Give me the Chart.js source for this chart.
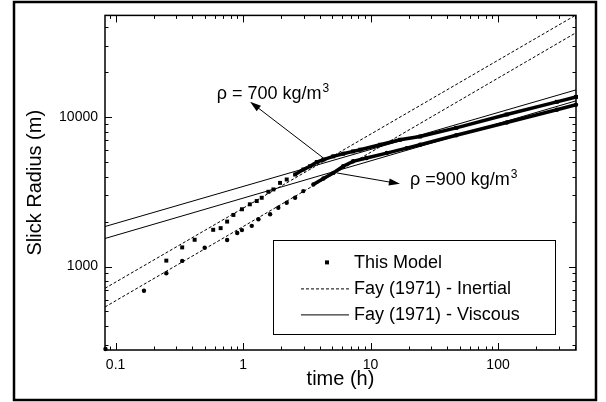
<!DOCTYPE html>
<html>
<head>
<meta charset="utf-8">
<script src="https://cdn.jsdelivr.net/npm/chart.js@4"></script>
<style>
  html, body { margin: 0; padding: 0; background: #fff; }
</style>
</head>
<body>
<canvas id="chart" width="606" height="402"></canvas>
<script>
const FONT = 'Arial, "Liberation Sans", sans-serif'

// model results, rho = 700 kg/m3 (time in h, radius in m)
const time700 = [0.25, 0.333, 0.417, 0.583, 0.667, 0.75, 0.84, 0.98, 1.13, 1.28, 1.40, 1.58, 1.73, 1.95, 2.20, 2.56, 2.97, 3.35, 3.79, 4.27, 5.1, 6.1, 7.3, 8.3, 11.9, 17, 24.5, 47, 117, 289, 409]
const radius700 = [1096, 1344, 1512, 1763, 1809, 2002, 2218, 2421, 2613, 2749, 2891, 3170, 3289, 3638, 3833, 4138, 4467, 4699, 5018, 5207, 5478, 5707, 5912, 6068, 6552, 7072, 7440, 8500, 10450, 12700, 13700]

// model results, rho = 900 kg/m3
const time900 = [0.0833, 0.167, 0.25, 0.333, 0.5, 0.75, 0.9, 0.98, 1.17, 1.32, 1.63, 1.89, 2.20, 2.56, 2.97, 3.56, 4.27, 5.1, 6.1, 7.3, 9.3, 13.4, 19.2, 24.5, 47, 117, 289, 409]
const radius900 = [280, 689, 902, 1091, 1338, 1505, 1680, 1755, 1874, 2077, 2242, 2480, 2678, 2891, 3205, 3550, 3893, 4242, 4699, 5073, 5335, 5761, 6220, 6552, 7580, 9240, 11250, 12130]

// Fay (1971) reference lines, end points only
const fayTime = [0.0826, 409]
const inertial700 = [715, 48500]
const inertial900 = [536, 36900]
const viscous700 = [1855, 15270]
const viscous900 = [1542, 12900]

const xTickLabels = [0.1, 1, 10, 100]
const yTickLabels = [1000, 10000]
const legendLabels = ["This Model", "Fay (1971) - Inertial", "Fay (1971) - Viscous"]
// model points merge into a band after these times
const denseFrom700 = 2.5
const denseFrom900 = 3.5

const notes = [
  { text: "\u03c1 = 700 kg/m", sup: "3", t: 0.622, r: 13260, tailT: 4.27, tailR: 5335, headT: 1.135, headR: 12720 },
  { text: "\u03c1 =900 kg/m", sup: "3", t: 20.4, r: 3513, tailT: 5.43, tailR: 4242, headT: 17.0, headR: 3583 },
]

const pts = (xs, ys) => xs.map((x, i) => ({ x, y: ys[i] }))

function isPow10(v) {
  const l = Math.log10(v)
  return Math.abs(l - Math.round(l)) < 1e-6
}
function isNiceTick(v) {
  const s = v / Math.pow(10, Math.floor(Math.log10(v) + 1e-9))
  return Math.abs(s - Math.round(s)) < 1e-6
}

function arrow(ctx, x0, y0, x1, y1) {
  const ang = Math.atan2(y1 - y0, x1 - x0)
  const len = 11, half = 3.5
  ctx.beginPath()
  ctx.moveTo(x0, y0)
  ctx.lineTo(x1 - Math.cos(ang) * len * 0.8, y1 - Math.sin(ang) * len * 0.8)
  ctx.stroke()
  ctx.beginPath()
  ctx.moveTo(x1, y1)
  ctx.lineTo(x1 - Math.cos(ang) * len - Math.sin(ang) * half, y1 - Math.sin(ang) * len + Math.cos(ang) * half)
  ctx.lineTo(x1 - Math.cos(ang) * len + Math.sin(ang) * half, y1 - Math.sin(ang) * len - Math.cos(ang) * half)
  ctx.closePath()
  ctx.fill()
}

const decorations = {
  id: "decorations",
  beforeDraw(chart) {
    const ctx = chart.ctx
    ctx.save()
    ctx.fillStyle = "#fff"
    ctx.fillRect(0, 0, chart.width, chart.height)
    ctx.restore()
  },
  beforeDatasetsDraw(chart) {
    const { ctx, chartArea: a } = chart
    // plot box under the marks so points on the edge stay visible
    ctx.save()
    ctx.strokeStyle = "#000"
    ctx.lineWidth = 1.5
    ctx.strokeRect(a.left, a.top, a.right - a.left, a.bottom - a.top)
    ctx.restore()
  },
  afterDraw(chart) {
    const { ctx, chartArea: a, scales: { x, y } } = chart
    ctx.save()
    ctx.strokeStyle = "#000"
    ctx.fillStyle = "#000"

    // outer frame
    ctx.lineWidth = 2.5
    ctx.strokeRect(14, 2, 582, 398)

    // inward ticks on all four sides
    ctx.lineWidth = 1
    ctx.beginPath()
    x.ticks.forEach((tk) => {
      const v = tk.value
      if (v < x.min || v > x.max || !isNiceTick(v)) return
      const len = isPow10(v) ? 7 : 3.5
      const px = Math.round(x.getPixelForValue(v)) + 0.5
      ctx.moveTo(px, a.bottom); ctx.lineTo(px, a.bottom - len)
      ctx.moveTo(px, a.top); ctx.lineTo(px, a.top + len)
    })
    y.ticks.forEach((tk) => {
      const v = tk.value
      if (v < y.min || v > y.max || !isNiceTick(v)) return
      const len = isPow10(v) ? 7 : 3.5
      const py = Math.round(y.getPixelForValue(v)) + 0.5
      ctx.moveTo(a.left, py); ctx.lineTo(a.left + len, py)
      ctx.moveTo(a.right, py); ctx.lineTo(a.right - len, py)
    })
    ctx.stroke()

    // annotations
    notes.forEach((n) => {
      arrow(ctx, x.getPixelForValue(n.tailT), y.getPixelForValue(n.tailR),
        x.getPixelForValue(n.headT), y.getPixelForValue(n.headR))
      const tx = x.getPixelForValue(n.t)
      const ty = y.getPixelForValue(n.r)
      ctx.font = "18px " + FONT
      ctx.textBaseline = "alphabetic"
      ctx.textAlign = "left"
      ctx.fillText(n.text, tx, ty)
      const w = ctx.measureText(n.text).width
      ctx.font = "12px " + FONT
      ctx.fillText(n.sup, tx + w + 1, ty - 7)
    })

    // legend
    const bx = a.left + 168, by = a.top + 225, bw = 282, bh = 94
    ctx.lineWidth = 1
    ctx.strokeRect(Math.round(bx) + 0.5, Math.round(by) + 0.5, bw, bh)
    const rows = [by + 22, by + 48, by + 74]
    ctx.fillRect(bx + 54 - 2, rows[0] - 2, 4, 4)
    ctx.beginPath()
    ctx.setLineDash([3, 2])
    ctx.moveTo(bx + 28, rows[1] + 0.5); ctx.lineTo(bx + 76, rows[1] + 0.5)
    ctx.stroke()
    ctx.setLineDash([])
    ctx.beginPath()
    ctx.moveTo(bx + 28, rows[2] + 0.5); ctx.lineTo(bx + 76, rows[2] + 0.5)
    ctx.stroke()
    ctx.font = "18px " + FONT
    ctx.textBaseline = "middle"
    legendLabels.forEach((lab, i) => ctx.fillText(lab, bx + 81, rows[i] + 1))

    ctx.restore()
  },
}

function modelSet(label, xs, ys, style, radius, denseFrom) {
  return {
    label,
    data: pts(xs, ys),
    showLine: true,
    clip: false,
    borderWidth: 3.5,
    borderColor: "#000",
    backgroundColor: "#000",
    pointStyle: style,
    pointRadius: radius,
    pointBorderWidth: 0,
    segment: {
      borderColor: (c) => (c.p0.parsed.x >= denseFrom ? "#000" : "rgba(0,0,0,0)"),
    },
    order: 0,
  }
}

function fayLine(label, ys, dashed) {
  return {
    label,
    data: pts(fayTime, ys),
    showLine: true,
    borderWidth: 1,
    borderColor: "#000",
    borderDash: dashed ? [3, 2] : [],
    pointRadius: 0,
    order: 1,
  }
}

new Chart(document.getElementById("chart"), {
  type: "scatter",
  data: {
    datasets: [
      modelSet("This Model 700", time700, radius700, "rect", 2.8, denseFrom700),
      modelSet("This Model 900", time900, radius900, "circle", 2.2, denseFrom900),
      fayLine("Inertial 700", inertial700, true),
      fayLine("Inertial 900", inertial900, true),
      fayLine("Viscous 700", viscous700, false),
      fayLine("Viscous 900", viscous900, false),
    ],
  },
  options: {
    responsive: false,
    animation: false,
    events: [],
    layout: { padding: { left: 13, top: 13, right: 30, bottom: 4 } },
    plugins: { legend: { display: false }, tooltip: { enabled: false } },
    scales: {
      x: {
        type: "logarithmic",
        min: 0.0826,
        max: 409,
        grid: { display: false, drawTicks: false },
        border: { display: false },
        ticks: {
          autoSkip: false,
          maxRotation: 0,
          padding: 7,
          color: "#000",
          font: { family: FONT, size: 14 },
          callback: (v) => (xTickLabels.some((l) => Math.abs(l - v) < l * 1e-6) ? String(v) : ""),
        },
        title: {
          display: true,
          text: "time (h)",
          color: "#000",
          font: { family: FONT, size: 20 },
          padding: { top: 0, bottom: 7 },
        },
        afterFit: (s) => { s.height = 48 },
      },
      y: {
        type: "logarithmic",
        min: 276,
        max: 48200,
        grid: { display: false, drawTicks: false },
        border: { display: false },
        ticks: {
          autoSkip: false,
          padding: 7,
          color: "#000",
          font: { family: FONT, size: 14 },
          callback: (v) => (yTickLabels.some((l) => Math.abs(l - v) < l * 1e-6) ? String(v) : ""),
        },
        title: {
          display: true,
          text: "Slick Radius (m)",
          color: "#000",
          font: { family: FONT, size: 20 },
          padding: { top: 10, bottom: 0 },
        },
        afterFit: (s) => { s.width = 92 },
      },
    },
  },
  plugins: [decorations],
})
</script>
</body>
</html>
